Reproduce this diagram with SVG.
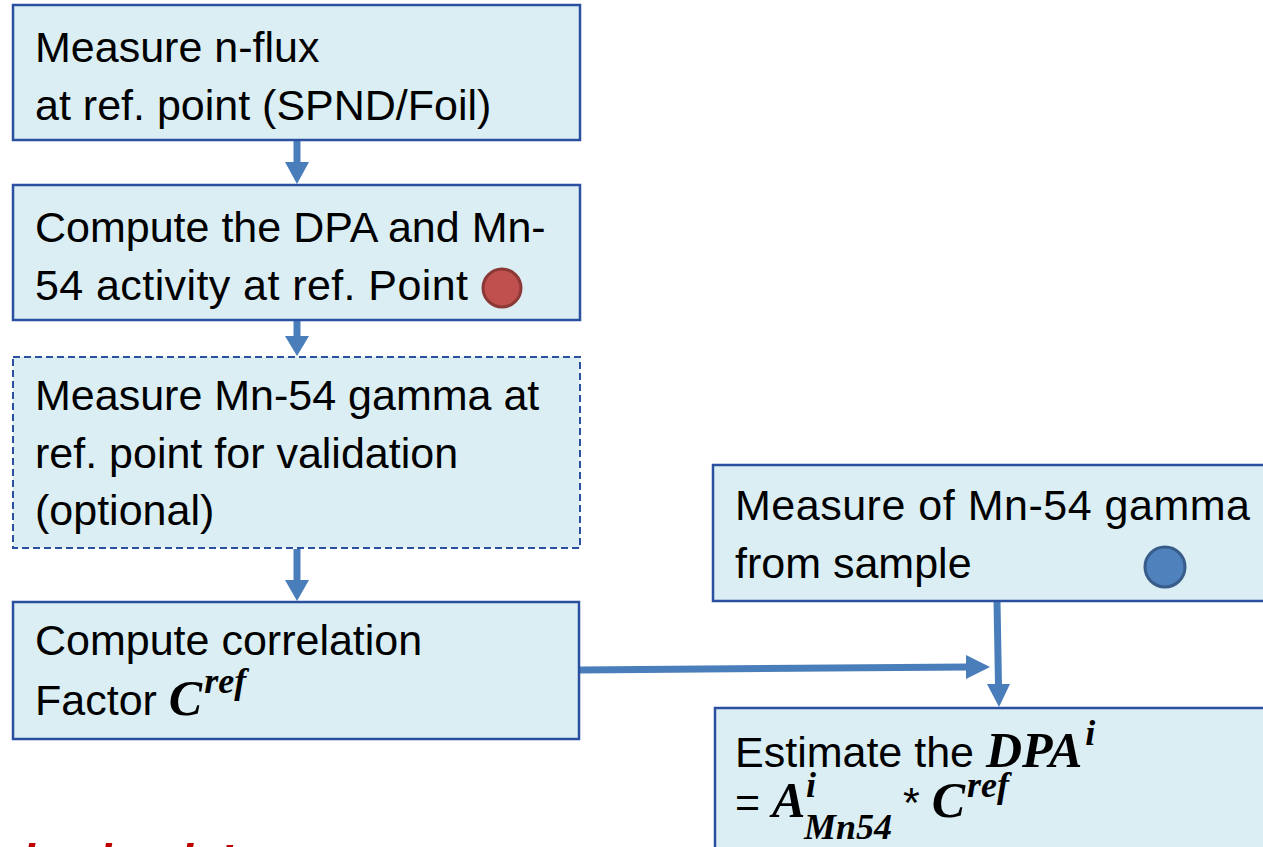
<svg xmlns="http://www.w3.org/2000/svg" width="1263" height="847" viewBox="0 0 1263 847">
<style>
.box{fill:#DAEEF3;stroke:#2B50A0;stroke-width:2.5}
.dash{stroke-dasharray:7 4;stroke-width:2}
.t{font-family:"Liberation Sans",Arial,sans-serif;font-size:43px;fill:#000}
.m{font-family:"Liberation Serif","Times New Roman",serif;font-weight:bold;font-style:italic;fill:#000}
.big{font-size:50px}
.sup{font-size:36px}
.conn{stroke:#4A7EBB;stroke-width:7;fill:none}
.head{fill:#4A7EBB}
.red{font-family:"Liberation Sans",Arial,sans-serif;font-weight:bold;font-style:italic;font-size:52px;fill:#C00000}
</style>
<rect width="1263" height="847" fill="#fff"/>
<g id="connectors">
<line class="conn" x1="297" y1="141" x2="297" y2="164"/>
<polygon class="head" points="285,162 309,162 297,184"/>
<line class="conn" x1="297" y1="321" x2="297" y2="338"/>
<polygon class="head" points="285,336 309,336 297,356"/>
<line class="conn" x1="297" y1="549" x2="297" y2="582"/>
<polygon class="head" points="285,580 309,580 297,601"/>
<line class="conn" x1="580" y1="670" x2="968" y2="667"/>
<polygon class="head" points="966,655 966,679 990,667"/>
<line class="conn" x1="997" y1="601" x2="998.5" y2="686"/>
<polygon class="head" points="987,684 1010,684 999,707"/>
</g>
<g id="n1">
<rect class="box" x="13" y="5" width="567" height="135"/>
<text class="t" x="35" y="62">Measure n-flux</text>
<text class="t" x="35" y="120">at ref. point (SPND/Foil)</text>
</g>
<g id="n2">
<rect class="box" x="13" y="185" width="567" height="135"/>
<text class="t" x="35" y="242">Compute the DPA and Mn-</text>
<text class="t" x="35" y="300" textLength="433">54 activity at ref. Point</text>
<circle cx="502" cy="288" r="19" fill="#C0504D" stroke="#8C3836" stroke-width="3"/>
</g>
<g id="n3">
<rect class="box dash" x="13" y="357" width="567" height="191"/>
<text class="t" x="35" y="410">Measure Mn-54 gamma at</text>
<text class="t" x="35" y="468">ref. point for validation</text>
<text class="t" x="35" y="525">(optional)</text>
</g>
<g id="n4">
<rect class="box" x="13" y="602" width="566" height="137"/>
<text class="t" x="35" y="655">Compute correlation</text>
<text class="t" x="35" y="715">Factor <tspan class="m big">C</tspan><tspan class="m sup" dx="2" dy="-22">ref</tspan></text>
</g>
<g id="n5">
<rect class="box" x="713" y="465" width="560" height="136"/>
<text class="t" x="735" y="520" textLength="515">Measure of Mn-54 gamma</text>
<text class="t" x="735" y="578">from sample</text>
<circle cx="1165" cy="567" r="20" fill="#4F81BD" stroke="#385D8A" stroke-width="3"/>
</g>
<g id="n6">
<rect class="box" x="715" y="708" width="560" height="150"/>
<text class="t" x="735" y="767">Estimate the <tspan class="m big">DPA</tspan><tspan class="m sup" dx="3" dy="-22">i</tspan></text>
<text class="t" x="735" y="817">= <tspan class="m big">A</tspan></text>
<text class="m sup" x="806" y="797">i</text>
<text class="m sup" x="804" y="839">Mn54</text>
<text class="t" x="903" y="817">* <tspan class="m big">C</tspan><tspan class="m sup" dx="2" dy="-20">ref</tspan></text>
</g>
<text class="red" x="22" y="881" textLength="212" lengthAdjust="spacingAndGlyphs">is simple!</text>
</svg>
